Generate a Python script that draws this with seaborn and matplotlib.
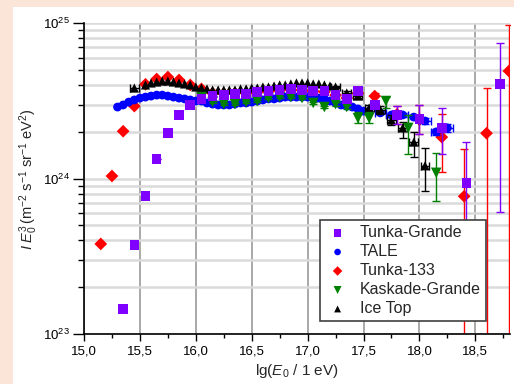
import matplotlib
matplotlib.use('Agg')
import matplotlib.pyplot as plt
import seaborn as sns
from matplotlib.patches import Rectangle
from matplotlib.ticker import FuncFormatter, LogLocator, MultipleLocator, NullFormatter, LogFormatterSciNotation

# values in units of 1e24 m^-2 s^-1 sr^-1 eV^2
tg_x = [15.35, 15.45, 15.55, 15.65, 15.75, 15.85, 15.95, 16.05, 16.15, 16.25, 16.35,
        16.45, 16.55, 16.65, 16.75, 16.85, 16.95, 17.05, 17.15, 17.25, 17.35, 17.45,
        17.6, 17.8, 18.0, 18.2, 18.42, 18.72]
tg_y = [0.145, 0.374, 0.773, 1.34, 1.97, 2.57, 2.98, 3.26, 3.41, 3.45, 3.50,
        3.50, 3.61, 3.66, 3.72, 3.78, 3.72, 3.66, 3.66, 3.45, 3.26, 3.66,
        2.98, 2.57, 2.42, 2.12, 0.94, 4.08]
tg_lo = [0] * 23 + [0.32, 0.48, 0.68, 0.59, 3.47]
tg_hi = [0] * 23 + [0.36, 0.56, 0.73, 0.78, 3.42]

tale_x = [15.30, 15.35, 15.40, 15.45, 15.50, 15.55, 15.60, 15.65, 15.70, 15.75, 15.80,
          15.85, 15.90, 15.95, 16.00, 16.05, 16.10, 16.15, 16.20, 16.25, 16.30, 16.35,
          16.40, 16.45, 16.50, 16.55, 16.60, 16.65, 16.70, 16.75, 16.80, 16.85, 16.90,
          16.95, 17.00, 17.05, 17.10, 17.15, 17.20, 17.25, 17.30, 17.35, 17.40, 17.45,
          17.50, 17.55]
tale_y = [2.89, 2.98, 3.11, 3.21, 3.30, 3.35, 3.40, 3.45, 3.45, 3.40, 3.35,
          3.30, 3.26, 3.21, 3.16, 3.16, 3.07, 3.02, 2.98, 2.98, 2.98, 3.02,
          3.07, 3.07, 3.11, 3.16, 3.21, 3.26, 3.26, 3.30, 3.35, 3.35, 3.35,
          3.35, 3.35, 3.30, 3.30, 3.26, 3.16, 3.07, 2.98, 2.93, 2.89, 2.81,
          2.72, 2.69]
tale_tail_x = [17.65, 17.75, 17.85, 17.95, 18.05, 18.15, 18.25]
tale_tail_y = [2.65, 2.57, 2.57, 2.49, 2.35, 2.00, 2.12]
tale_tail_err = [0.06, 0.06, 0.07, 0.08, 0.09, 0.10, 0.12]

t133_x = [15.15, 15.25, 15.35, 15.45, 15.55, 15.65, 15.75, 15.85, 15.95, 16.05, 16.15,
          16.25, 16.35, 16.45, 16.55, 16.65, 16.75, 16.85, 16.95, 17.05, 17.15, 17.25,
          17.35, 17.45, 17.6, 17.8, 18.0, 18.2, 18.4, 18.6, 18.8]
t133_y = [0.38, 1.04, 2.02, 2.93, 4.05, 4.38, 4.51, 4.32, 4.01, 3.78, 3.55,
          3.52, 3.55, 3.55, 3.60, 3.65, 3.70, 3.75, 3.70, 3.65, 3.62, 3.45,
          3.30, 3.55, 3.40, 2.60, 2.40, 1.85, 0.77, 1.96, 4.93]
t133_lo = [0] * 24 + [0.38, 0.35, 0.46, 0.75, 0.72, 1.91, 4.88]
t133_hi = [0] * 24 + [0.16, 0.33, 0.58, 0.75, 0.78, 1.87, 4.82]

kg_x = [16.05, 16.15, 16.25, 16.35, 16.45, 16.55, 16.65, 16.75, 16.85, 16.95, 17.05,
        17.15, 17.25, 17.35, 17.45, 17.55, 17.7, 17.9, 18.15]
kg_y = [3.35, 3.11, 3.02, 3.02, 3.11, 3.16, 3.30, 3.35, 3.35, 3.30, 3.07,
        2.89, 3.02, 2.89, 2.45, 2.45, 3.16, 2.12, 1.09]
kg_lo = [0.05] * 12 + [0.10, 0.10, 0.17, 0.17, 0.31, 0.68, 0.37]
kg_hi = [0.05] * 12 + [0.10, 0.10, 0.24, 0.24, 0.19, 0.45, 0.37]

it_x = [15.45, 15.55, 15.60, 15.65, 15.70, 15.75, 15.80, 15.85, 15.90, 15.95, 16.00,
        16.05, 16.10, 16.15, 16.20, 16.25, 16.30, 16.35, 16.40, 16.45, 16.50, 16.55,
        16.60, 16.65, 16.70, 16.75, 16.80, 16.85, 16.90, 16.95, 17.00, 17.05, 17.10,
        17.15, 17.20]
it_y = [3.83, 4.01, 4.13, 4.19, 4.25, 4.25, 4.19, 4.13, 4.07, 4.01, 3.89,
        3.83, 3.78, 3.72, 3.72, 3.72, 3.72, 3.72, 3.78, 3.78, 3.83, 3.83,
        3.89, 3.89, 3.95, 4.01, 4.01, 4.07, 4.13, 4.13, 4.13, 4.07, 4.07,
        4.01, 3.95]
it_tail_x = [17.25, 17.35, 17.45, 17.55, 17.65, 17.75, 17.85, 17.95, 18.05]
it_tail_y = [3.89, 3.56, 3.40, 2.85, 2.77, 2.38, 2.12, 1.72, 1.21]
it_tail_lo = [0.08, 0.10, 0.10, 0.12, 0.15, 0.17, 0.29, 0.34, 0.38]
it_tail_hi = [0.08, 0.10, 0.10, 0.12, 0.15, 0.17, 0.20, 0.28, 0.36]

E = 1e24
sc = lambda v: [a * E for a in v]

sns.set_style('ticks')
plt.rcParams['font.family'] = ['Liberation Sans', 'DejaVu Sans']
plt.rcParams['mathtext.fontset'] = 'custom'
plt.rcParams['mathtext.rm'] = 'Liberation Sans'
plt.rcParams['mathtext.it'] = 'Liberation Sans:italic'

fig = plt.figure(figsize=(5.14, 3.84), dpi=100)
fig.patch.set_facecolor('#fae5d8')
fig.patches.append(Rectangle((13 / 514, 0), 1, 1 - 7 / 384, transform=fig.transFigure,
                             facecolor='white', edgecolor='none', zorder=-10))
ax = fig.add_axes([84 / 514, 1 - 334 / 384, (510 - 84) / 514, (334 - 23.3) / 384])

purple, blue, red, green = '#8000ff', '#0000ff', '#ff0000', '#008000'
eb = dict(fmt='none', elinewidth=1, capsize=2.8, capthick=1)

# Tunka-133
ax.errorbar(t133_x, sc(t133_y), yerr=[sc(t133_lo), sc(t133_hi)], ecolor=red, zorder=2, **eb)
sns.scatterplot(x=t133_x, y=sc(t133_y), marker='D', s=42, color=red, edgecolor='none',
                label='Tunka-133', zorder=2.5, ax=ax)
# TALE
ax.errorbar(tale_tail_x, sc(tale_tail_y), xerr=0.05, yerr=sc(tale_tail_err), ecolor=blue, zorder=3, **eb)
sns.scatterplot(x=tale_x + tale_tail_x, y=sc(tale_y + tale_tail_y), marker='o', s=40, color=blue,
                edgecolor='none', label='TALE', zorder=3.5, ax=ax)
# Ice Top
ax.errorbar(it_tail_x, sc(it_tail_y), xerr=0.04, yerr=[sc(it_tail_lo), sc(it_tail_hi)],
            ecolor='black', zorder=4, **eb)
ax.errorbar(it_x[:1], sc(it_y[:1]), xerr=0.04, ecolor='black', zorder=4, **eb)
sns.scatterplot(x=it_x + it_tail_x, y=sc(it_y + it_tail_y), marker='^', s=44, color='black',
                edgecolor='none', label='Ice Top', zorder=4.5, ax=ax)
# Kaskade-Grande
ax.errorbar(kg_x, sc(kg_y), yerr=[sc(kg_lo), sc(kg_hi)], ecolor=green, zorder=5, **eb)
sns.scatterplot(x=kg_x, y=sc(kg_y), marker='v', s=58, color=green, edgecolor='none',
                label='Kaskade-Grande', zorder=5.5, ax=ax)
# Tunka-Grande
ax.errorbar(tg_x, sc(tg_y), yerr=[sc(tg_lo), sc(tg_hi)], ecolor=purple, zorder=6, **eb)
sns.scatterplot(x=tg_x, y=sc(tg_y), marker='s', s=48, color=purple, edgecolor='none',
                label='Tunka-Grande', zorder=6.5, ax=ax)

ax.set_yscale('log')
ax.set_xlim(15.0, 18.81)
ax.set_ylim(1e23, 1e25)

ax.xaxis.set_major_locator(MultipleLocator(0.5))
ax.xaxis.set_minor_locator(MultipleLocator(0.25))
ax.xaxis.set_major_formatter(FuncFormatter(lambda v, p: f'{v:.1f}'.replace('.', ',')))
ax.yaxis.set_major_locator(LogLocator(base=10))
ax.yaxis.set_minor_locator(LogLocator(base=10, subs=range(2, 10)))
ax.yaxis.set_major_formatter(LogFormatterSciNotation())
ax.yaxis.set_minor_formatter(NullFormatter())

ax.set_axisbelow(True)
ax.yaxis.grid(True, which='both', color='#dadada', linewidth=1.8)
ax.xaxis.grid(True, which='major', color='#a3a3a3', linewidth=1.3)

for s in ['top', 'right']:
    ax.spines[s].set_visible(False)
for s in ['left', 'bottom']:
    ax.spines[s].set_color('black')
    ax.spines[s].set_linewidth(1.2)

ax.tick_params(axis='x', which='major', direction='out', length=5, width=1, labelsize=9.5, pad=3, colors='black')
ax.tick_params(axis='x', which='minor', direction='out', length=3, width=1, colors='black')
ax.tick_params(axis='y', which='major', direction='out', length=8, width=1, labelsize=9.5, pad=2, colors='black')
ax.tick_params(axis='y', which='minor', direction='out', length=4, width=1, colors='black')

ax.set_ylabel(r'$I\;E_{\mathit{0}}^3\,$(m$^{-2}$ s$^{-1}$ sr$^{-1}$ eV$^2$)', fontsize=10.5)
ax.set_xlabel(r'lg($E_{\mathit{0}}$ / 1 eV)', fontsize=11)
ax.yaxis.set_label_coords(-0.103, 0.5)
ax.xaxis.set_label_coords(0.5, -0.09)

handles, labels = ax.get_legend_handles_labels()
order = ['Tunka-Grande', 'TALE', 'Tunka-133', 'Kaskade-Grande', 'Ice Top']
hmap = dict(zip(labels, handles))
leg = ax.legend([hmap[k] for k in order], order, loc='lower left', bbox_to_anchor=(0.554, 0.042),
                frameon=True, fancybox=False, edgecolor='#404040', framealpha=1, fontsize=11.5,
                borderpad=0.3, labelspacing=0.25, handletextpad=0.6, handlelength=1.6,
                borderaxespad=0, markerscale=0.75)
leg.get_frame().set_linewidth(1.2)
leg.set_zorder(20)

fig.savefig('out.png', dpi=100, facecolor=fig.get_facecolor())
